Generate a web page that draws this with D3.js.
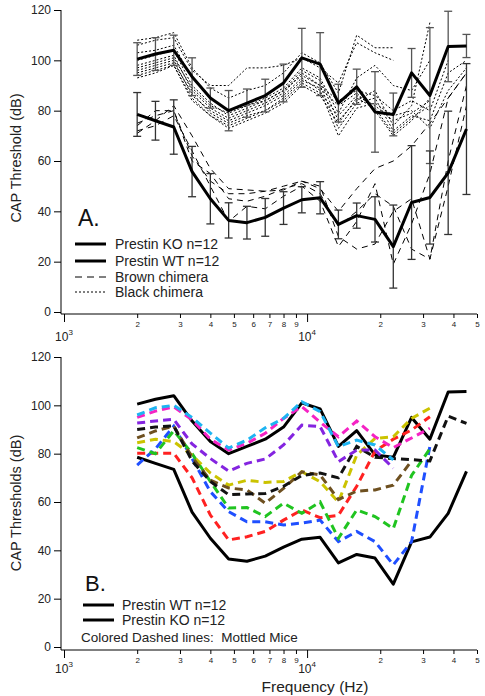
<!DOCTYPE html>
<html>
<head>
<meta charset="utf-8">
<script src="https://cdn.jsdelivr.net/npm/d3@7"></script>
<style>
  html, body { margin: 0; padding: 0; background: #fff; }
  svg { display: block; font-family: "Liberation Sans", Arial, sans-serif; }
</style>
</head>
<body>
<svg id="chart" width="485" height="696"></svg>
<script>
// ---------------- DATA ----------------
const freqs = [2000, 2378, 2828, 3364, 4000, 4757, 5657, 6727, 8000, 9514, 11314, 13454, 16000, 19027, 22627, 26909, 32000, 38055, 45255];

const wtMean = [100.5, 102.5, 104, 93.5, 85, 80, 83, 86, 91, 101, 98.5, 83, 89.5, 79.5, 78.5, 95, 86, 105.5, 105.7];
const wtErr  = [6.5, 6.5, 6, 7.5, 4, 8, 5.6, 6.5, 7.5, 11.7, 12.5, 7.5, 7, 16, 8.5, 9.7, 27, 14, 4.6];
const koMean = [78.5, 76, 73.5, 55.8, 45, 36.4, 35.5, 37.6, 41.3, 44.6, 45.4, 34.8, 38.3, 36.8, 26, 43.5, 45.5, 55.3, 72.7];
const koErr  = [8.7, 7.7, 10.8, 10, 10, 7, 6.5, 7.5, 6.5, 5.2, 6.4, 5.7, 5, 9, 16.5, 22.6, 18.5, 24.5, 26];

// Panel A: brown chimeras (dashed)
const brown1 = [71, 76, 82, 70, 57, 49, 48.5, 48, 48.5, 52, 49, 40, 49, 57, 60, 66, 75, 85, 95];
const brown2 = [74, 80, 80, 62, 52, 47, 47, 48, 50, 52, 50, 30, 25, 27, 40, 45, 21, 60, 90];
const brown3 = [72, 74, 78, 64, 50, 36, 42, 41, 46, 50, 44, 26, 36, 51, 19, 35, 55, 85, 95];
const brown4 = [75, 78, 80, 60, 55, 45, 44, 46, 49, 51, 47, 34, 40, 47, 42, 25, 21, 50, 82];

// Panel A: black chimeras (dotted)
const black1  = [108, 109, 111, 97, 89, 85, 88, 90, 95, 103, 99, 87, 110, 105, 105, null, null, null, null];
const black2  = [106, 108, 109, 96, 90, 90, 97, 97, 98, 101, 97, 91, 107, 103, 100, null, null, null, null];
const black3  = [103, 104, 106, 93, 85, 80, 82, 85, 89, 97, 93, 79, 93, 98, 90, 88, 100, null, null];
const black4  = [100, 102, 104, 90, 83, 78, 81, 84, 88, 96, 92, 76, 84, 88, 74, 82, 115, null, null];
const black5  = [98, 100, 102, 88, 81, 77, 80, 83, 87, 95, 90, 73, 83, 85, 72, 78, 76, 95, 100];
const black6  = [96, 98, 100, 86, 80, 76, 79, 82, 86, 93, 88, 70, 81, 83, 78, 80, 73, 88, 97];
const black7  = [95, 97, 99, 87, 79, 75, 78, 80, 85, 92, 89, 82, 87, 80, 70, 76, 85, null, null];
const black8  = [94, 96, 98, 85, 78, 74, 77, 80, 84, 91, 87, 78, 86, 82, 76, 79, 84, null, null];
const black9  = [97, 99, 101, 89, 82, 79, 82, 84, 88, 94, 90, 84, 88, 86, 80, 84, 80, 100, null];
const black10 = [93, 95, 98, 84, 78, 73, 76, 79, 83, 90, 86, 75, 85, 81, 71, 77, 82, null, null];

// Panel B: mottled mice (colored dashed)
const mCyan    = [96, 99, 100, 95, 88.5, 82.3, 85.6, 90.7, 94.6, 101.5, 97.4, 82.9, 85.6, 83.6, 77.4, null, null, null, null];
const mMagenta = [95, 97.6, 99.4, 94, 86, 81.5, 84.3, 88.4, 94.6, 99.5, 93, 87, 93.5, 87, 82.5, 86.5, 90.5, null, null];
const mPurple  = [92.7, 93.5, 94.2, 84, 78, 72.8, 76, 77.8, 83.6, 91.8, 91.2, 76.7, 81.5, 81.5, 74, null, null, null, null];
const mBlack   = [90, 91, 91.5, 77, 68.5, 63, 63.3, 63.5, 66.5, 71, 72, 70, 83, 78.5, 78, 77.5, 77, 95.5, 92.5];
const mBrown   = [86.5, 89.4, 91.4, 78.6, 69, 65.8, 65, 59.5, 65.6, 72.5, 71.2, 61, 64.5, 65, 67, 77, null, null, null];
const mYellow  = [84.5, 86, 85, 79.4, 72, 67, 69, 68.1, 68.5, 72.5, 68.4, 60, 79.4, 86.3, 87, 94.6, 98.8, null, null];
const mGreen   = [82.5, 80, 89.5, 80, 68.5, 57.5, 57.7, 54, 59.5, 55.3, 60, 45, 56.7, 54, 49, 71, 82, null, null];
const mBlue    = [75.3, 82, 91.4, 78, 64.3, 56, 51.8, 51.8, 50.5, 51.3, 52.5, 43.6, 47.8, 43.6, 34, 43.6, 83, null, null];
const mRed     = [80.2, 80.2, 80.2, 70, 54.6, 44.3, 45.6, 47.8, 52.5, 56.7, 53.5, 54.5, 66.5, 81, 86, 89.8, 95.3, null, null];

const yTicks = [0, 20, 40, 60, 80, 100, 120];
const minorTicks = [2000, 3000, 4000, 5000, 6000, 7000, 8000, 9000, 20000, 30000, 40000, 50000];
const minorLabels = ["2", "3", "4", "5", "6", "7", "8", "9", "2", "3", "4", "5"];
const majorTicks = [1000, 10000];
const majorExp = ["3", "4"];

// ---------------- DRAW ----------------
const svg = d3.select("#chart");
const x = d3.scaleLog().domain([1000, 50000]).range([64, 477]);
const axisX0 = 61;

function panel(cfg) {
  const y = d3.scaleLinear().domain([0, 120]).range([cfg.y0, cfg.y120]);
  const g = svg.append("g");

  // Y axis
  const ya = g.append("g").attr("transform", `translate(${axisX0},0)`)
    .call(d3.axisLeft(y).tickValues(yTicks).tickSize(7).tickSizeOuter(0).tickPadding(3));
  ya.select(".domain").remove();
  ya.selectAll("text").attr("font-size", 12).attr("fill", "#222")
    .attr("font-family", "'Liberation Sans', Arial, sans-serif");
  ya.selectAll(".tick line").attr("stroke", "#000");
  g.append("line").attr("x1", axisX0).attr("x2", axisX0)
    .attr("y1", cfg.y120).attr("y2", cfg.axisY).attr("stroke", "#000");

  // X axis minor
  const xm = g.append("g").attr("transform", `translate(0,${cfg.axisY})`)
    .call(d3.axisBottom(x).tickValues(minorTicks).tickSize(4).tickSizeOuter(0).tickPadding(3)
      .tickFormat((d, i) => minorLabels[i]));
  xm.select(".domain").remove();
  xm.selectAll("text").attr("font-size", 8).attr("fill", "#222")
    .attr("font-family", "'Liberation Sans', Arial, sans-serif");
  const xM = g.append("g").attr("transform", `translate(0,${cfg.axisY})`)
    .call(d3.axisBottom(x).tickValues(majorTicks).tickSize(8).tickSizeOuter(0).tickFormat(""));
  xM.select(".domain").remove();
  g.append("line").attr("x1", axisX0).attr("x2", x(50000))
    .attr("y1", cfg.axisY).attr("y2", cfg.axisY).attr("stroke", "#000");
  majorTicks.forEach((t, i) => {
    const tx = g.append("text").attr("x", x(t)).attr("y", cfg.axisY + cfg.majorDy)
      .attr("text-anchor", "middle").attr("font-size", 12).attr("fill", "#222");
    tx.append("tspan").text("10");
    tx.append("tspan").attr("dy", -6).attr("font-size", 8).text(majorExp[i]);
  });

  // Y label
  g.append("text")
    .attr("transform", `translate(21,${cfg.labelY}) rotate(-90)`)
    .attr("text-anchor", "middle").attr("font-size", 14.5).attr("fill", "#222")
    .text(cfg.yLabel);

  return { g, y };
}

const line = (y) => d3.line()
  .defined(d => d.v != null)
  .x(d => x(d.f))
  .y(d => y(d.v));
const pts = (arr) => arr.map((v, i) => ({ f: freqs[i], v }));

// ---------- Panel A ----------
const A = panel({ y0: 312, y120: 10, axisY: 314, majorDy: 27, labelY: 158, yLabel: "CAP Threshold (dB)" });
const lA = line(A.y);

[black1, black2, black3, black4, black5, black6, black7, black8, black9, black10].forEach(s => {
  A.g.append("path").attr("d", lA(pts(s))).attr("fill", "none")
    .attr("stroke", "#000").attr("stroke-width", 1).attr("stroke-dasharray", "2,2");
});
[brown1, brown2, brown3, brown4].forEach(s => {
  A.g.append("path").attr("d", lA(pts(s))).attr("fill", "none")
    .attr("stroke", "#000").attr("stroke-width", 1).attr("stroke-dasharray", "6,5");
});

function errorBars(g, y, mean, err, color) {
  mean.forEach((m, i) => {
    const cx = x(freqs[i]);
    const top = y(Math.min(120, m + err[i]));
    const bot = y(m - err[i]);
    g.append("line").attr("x1", cx).attr("x2", cx).attr("y1", top).attr("y2", bot)
      .attr("stroke", color).attr("stroke-width", 1.3);
    [top, bot].forEach(yy => g.append("line").attr("x1", cx - 4).attr("x2", cx + 4)
      .attr("y1", yy).attr("y2", yy).attr("stroke", color).attr("stroke-width", 1.3));
  });
}
errorBars(A.g, A.y, wtMean, wtErr, "#555");
errorBars(A.g, A.y, koMean, koErr, "#333");

[wtMean, koMean].forEach(s => {
  A.g.append("path").attr("d", lA(pts(s))).attr("fill", "none")
    .attr("stroke", "#000").attr("stroke-width", 3).attr("stroke-linejoin", "round");
});

// Legend A
A.g.append("text").attr("x", 78).attr("y", 226).attr("font-size", 23).attr("fill", "#111").text("A.");
const legA = [
  { t: "Prestin KO n=12", w: 3, dash: null, y: 244 },
  { t: "Prestin WT n=12", w: 3, dash: null, y: 261 },
  { t: "Brown chimera", w: 1, dash: "7,5", y: 277 },
  { t: "Black chimera", w: 1, dash: "2,2", y: 292 }
];
legA.forEach(d => {
  A.g.append("line").attr("x1", 75).attr("x2", 106).attr("y1", d.y).attr("y2", d.y)
    .attr("stroke", "#000").attr("stroke-width", d.w).attr("stroke-dasharray", d.dash);
  A.g.append("text").attr("x", 115).attr("y", d.y + 5).attr("font-size", 14).attr("fill", "#222").text(d.t);
});

// ---------- Panel B ----------
const B = panel({ y0: 647, y120: 357, axisY: 650, majorDy: 23, labelY: 503, yLabel: "CAP Thresholds (dB)" });
const lB = line(B.y);

[wtMean, koMean].forEach(s => {
  B.g.append("path").attr("d", lB(pts(s))).attr("fill", "none")
    .attr("stroke", "#000").attr("stroke-width", 3).attr("stroke-linejoin", "round");
});

const mottled = [
  { s: mRed, c: "#ff2121" },
  { s: mBlue, c: "#1f4fff" },
  { s: mGreen, c: "#20c420" },
  { s: mYellow, c: "#cbc300" },
  { s: mBrown, c: "#6e5020" },
  { s: mBlack, c: "#111111" },
  { s: mPurple, c: "#8424e0" },
  { s: mMagenta, c: "#f523c4" },
  { s: mCyan, c: "#1db4f2" }
];
mottled.forEach(d => {
  B.g.append("path").attr("d", lB(pts(d.s))).attr("fill", "none")
    .attr("stroke", d.c).attr("stroke-width", 3).attr("stroke-dasharray", "8,5");
});

// Legend B
B.g.append("text").attr("x", 85).attr("y", 591).attr("font-size", 22).attr("fill", "#111").text("B.");
[{ t: "Prestin WT n=12", y: 605 }, { t: "Prestin KO n=12", y: 620 }].forEach(d => {
  B.g.append("line").attr("x1", 83).attr("x2", 114).attr("y1", d.y).attr("y2", d.y)
    .attr("stroke", "#000").attr("stroke-width", 3);
  B.g.append("text").attr("x", 122).attr("y", d.y + 5).attr("font-size", 14).attr("fill", "#222").text(d.t);
});
B.g.append("text").attr("x", 81).attr("y", 642).attr("font-size", 13.5).attr("fill", "#222")
  .style("white-space", "pre").text("Colored Dashed lines:  Mottled Mice");

// X label
svg.append("text").attr("x", 315).attr("y", 692).attr("text-anchor", "middle")
  .attr("font-size", 15.5).attr("fill", "#222").text("Frequency (Hz)");
</script>
</body>
</html>
